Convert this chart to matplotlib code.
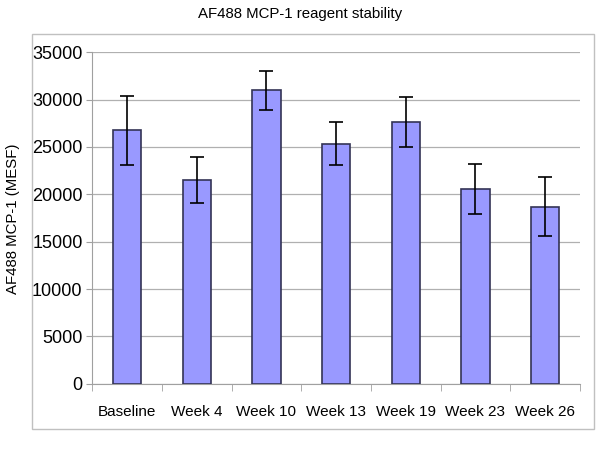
import matplotlib
matplotlib.use("Agg")
import matplotlib.pyplot as plt
from matplotlib.patches import Rectangle
import numpy as np

categories = ["Baseline", "Week 4", "Week 10", "Week 13", "Week 19", "Week 23", "Week 26"]
values = [26750, 21500, 31000, 25350, 27650, 20550, 18700]
errors = [3650, 2400, 2050, 2250, 2600, 2650, 3150]
yticks = [0, 5000, 10000, 15000, 20000, 25000, 30000, 35000]

plt.rcParams['font.family'] = ['Liberation Sans', 'DejaVu Sans']

fig = plt.figure(figsize=(6, 4.5), dpi=100)
fig.patches.append(Rectangle((32/600, 1-429/450), 562/600, 395/450, transform=fig.transFigure,
                             fill=False, edgecolor='#c0c0c0', linewidth=1))
ax = fig.add_axes([92.3/600, 1-383.7/450, (580-92.3)/600, (383.7-52.3)/450])

x = np.arange(len(categories))
ax.bar(x, values, width=0.41, color='#9999ff', edgecolor='#333355', linewidth=1.2, zorder=3)
ax.errorbar(x, values, yerr=errors, fmt='none', ecolor='black', elinewidth=1.2,
            capsize=5, capthick=1.2, zorder=4)

ax.set_xlim(-0.5, len(categories) - 0.5)
ax.set_ylim(0, 35000)
ax.set_yticks(yticks)
ax.set_yticklabels([str(v) for v in yticks], fontsize=13)
ax.set_xticks(x)
ax.set_xticklabels(categories, fontsize=11)
ax.set_xticks(np.arange(-0.5, len(categories)), minor=True)
ax.tick_params(axis='x', which='major', length=0, pad=15)
ax.tick_params(axis='x', which='minor', length=5, color='#a0a0a0', direction='out')
ax.tick_params(axis='y', length=4, color='#a0a0a0', direction='out', pad=3)
ax.grid(axis='y', color='#b0b0b0', linewidth=0.9, zorder=0)
for s in ['top', 'right']:
    ax.spines[s].set_visible(False)
for s in ['left', 'bottom']:
    ax.spines[s].set_color('#a0a0a0')

fig.text(13/600, 1-219/450, "AF488 MCP-1 (MESF)", rotation=90, ha='center', va='center', fontsize=10.8)
fig.text(0.5, 1-14/450, "AF488 MCP-1 reagent stability", ha='center', va='center', fontsize=10.8)

fig.savefig("out.png", dpi=100)
